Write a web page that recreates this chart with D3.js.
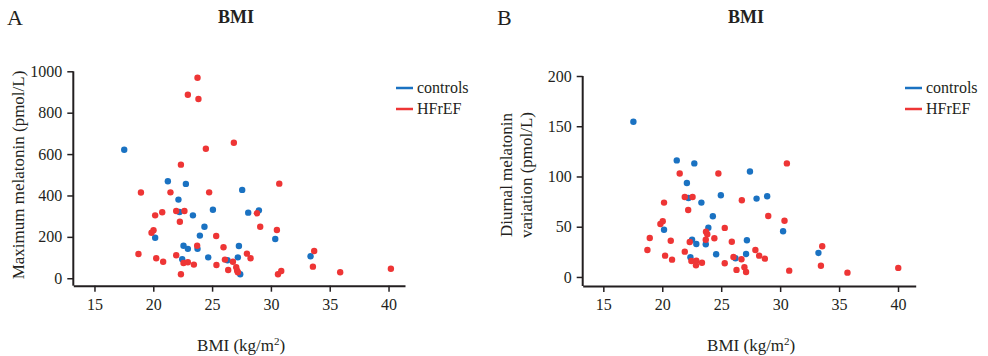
<!DOCTYPE html>
<html>
<head>
<meta charset="utf-8">
<script src="https://cdn.jsdelivr.net/npm/d3@7"></script>
<style>
  body { margin: 0; background: #fff; }
  text { font-family: "Liberation Serif", "Times New Roman", serif; fill: #231f20; }
</style>
</head>
<body>
<div id="chart"></div>
<script>
// panel A: BMI vs maximum melatonin (pmol/L)
const maxControls = [
  [17.53, 621], [21.24, 469], [22.77, 456], [27.56, 427], [22.14, 380], [22.23, 320],
  [25.07, 331], [28.07, 317], [28.98, 328], [23.37, 304], [24.35, 249], [20.16, 196],
  [23.96, 206], [22.57, 157], [22.94, 142], [23.76, 142], [27.28, 156], [24.67, 101],
  [27.19, 101], [22.46, 92], [26.31, 87], [27.39, 19], [30.37, 190], [33.37, 106]
];
const maxHFrEF = [
  [23.76, 969], [22.94, 887], [23.84, 866], [24.47, 626], [26.85, 655], [22.35, 549],
  [18.95, 414], [21.46, 415], [24.75, 415], [21.95, 325], [22.65, 325], [28.81, 314],
  [20.76, 319], [20.16, 304], [22.26, 273], [29.09, 249], [20.02, 232], [19.85, 220],
  [25.35, 204], [23.73, 157], [25.97, 150], [18.74, 117], [21.95, 111], [27.96, 119],
  [28.27, 97], [20.25, 97], [26.09, 90], [20.84, 80], [22.57, 74], [22.94, 77],
  [23.45, 66], [25.37, 64], [26.77, 80], [27.05, 53], [26.37, 40], [27.13, 37],
  [27.19, 29], [22.35, 19], [30.71, 457], [30.51, 233], [33.68, 132], [33.57, 56],
  [35.89, 29], [40.2, 46], [30.88, 35], [30.6, 19]
];

// panel B: BMI vs diurnal melatonin variation (pmol/L)
const varControls = [
  [17.55, 154.5], [21.23, 116], [22.72, 113], [27.44, 105], [22.09, 93.5], [22.22, 78.6],
  [24.97, 81.3], [23.32, 74], [24.29, 60.4], [20.15, 47], [23.91, 49], [22.53, 37],
  [22.89, 32.8], [23.69, 32.5], [27.18, 36.5], [22.39, 19.6], [24.57, 22.6], [26.21, 18.6],
  [27.11, 22.9], [28.0, 78], [28.9, 80.3], [30.25, 45.5], [33.25, 23.9]
];
const varHFrEF = [
  [21.48, 103], [24.76, 103], [21.91, 79.6], [22.57, 79.6], [26.75, 76.3], [20.15, 74],
  [22.2, 66.7], [19.84, 52.7], [20.04, 55.4], [23.71, 45], [23.82, 42.5], [25.3, 48.8],
  [24.42, 38.5], [23.69, 37], [22.33, 34.8], [25.9, 35], [18.94, 38.8], [20.72, 36],
  [18.74, 26.9], [20.24, 21.2], [20.83, 17.2], [21.91, 25.2], [22.47, 15.9], [22.89, 16.2],
  [22.86, 11.6], [23.37, 14.2], [25.3, 13.6], [26.04, 19.9], [26.72, 17.6], [26.3, 7],
  [26.97, 9.6], [27.11, 5], [28.99, 60.7], [30.37, 56], [27.9, 26.9], [28.22, 21.2],
  [28.7, 18.2], [33.57, 30.5], [33.46, 11.2], [30.77, 6.3], [35.71, 4.3], [40.02, 9],
  [30.57, 113]
];

const xTicks = [15, 20, 25, 30, 35, 40];
const yTicksA = [0, 200, 400, 600, 800, 1000];
const yTicksB = [0, 50, 100, 150, 200];
const seriesNames = ["controls", "HFrEF"];
const colors = { controls: "#1a72c2", HFrEF: "#ee3535" };
const serif = '"Liberation Serif", "Times New Roman", serif';

const svg = d3.select("#chart").append("svg")
  .attr("width", 988)
  .attr("height", 356);

function panel(opts) {
  const x = d3.scaleLinear().domain(opts.xDomain).range(opts.xRange);
  const y = d3.scaleLinear().domain(opts.yDomain).range(opts.yRange);
  const g = svg.append("g");

  // x axis
  const xa = g.append("g")
    .attr("transform", `translate(0,${opts.yRange[0]})`)
    .call(d3.axisBottom(x).tickValues(xTicks).tickFormat(d3.format("d"))
      .tickSizeOuter(0).tickSizeInner(6).tickPadding(7));
  // y axis
  const ya = g.append("g")
    .attr("transform", `translate(${opts.xRange[0]},0)`)
    .call(d3.axisLeft(y).tickValues(opts.yTicks).tickFormat(d3.format("d"))
      .tickSizeOuter(0).tickSizeInner(6).tickPadding(5));

  [xa, ya].forEach(a => {
    a.attr("font-family", serif).attr("font-size", 16);
    a.select(".domain").attr("stroke", "#231f20").attr("stroke-width", 2);
    a.selectAll(".tick line").attr("stroke", "#231f20").attr("stroke-width", 1.5);
    a.selectAll(".tick text").attr("fill", "#231f20");
  });
  // y domain line drawn from top tick down to x axis
  ya.select(".domain").attr("d", `M0,${y(opts.yTicks[opts.yTicks.length - 1])}V${opts.yRange[0]}`);

  // points
  const sets = [["controls", opts.controls], ["HFrEF", opts.hfref]];
  sets.forEach(([name, data]) => {
    g.append("g").selectAll("circle")
      .data(data)
      .enter()
      .append("circle")
      .attr("cx", d => x(d[0]))
      .attr("cy", d => y(d[1]))
      .attr("r", 3.2)
      .attr("fill", colors[name]);
  });

  // panel letter and title
  g.append("text").attr("x", opts.letterX).attr("y", 25)
    .style("font-size", "22px").text(opts.letter);
  g.append("text").attr("x", opts.titleX).attr("y", 23)
    .attr("text-anchor", "middle")
    .style("font-size", "18px").style("font-weight", "bold").text("BMI");

  // axis labels
  g.append("text")
    .attr("x", (opts.xRange[0] + opts.xRange[1]) / 2 + 2)
    .attr("y", 351)
    .attr("text-anchor", "middle")
    .style("font-size", "17px")
    .html('BMI (kg/m<tspan dy="-6" style="font-size:11px">2</tspan><tspan dy="6">)</tspan>');

  const yl = g.append("text")
    .attr("transform", `translate(${opts.yLabelX},175) rotate(-90)`)
    .attr("text-anchor", "middle")
    .style("font-size", "17px");
  opts.yLabel.forEach((line, i) => {
    yl.append("tspan").attr("x", 0).attr("dy", i === 0 ? 0 : 20).text(line);
  });

  // legend
  const lg = g.append("g").attr("transform", `translate(${opts.legendX},88)`);
  seriesNames.forEach((name, i) => {
    lg.append("line")
      .attr("x1", 0).attr("x2", 17)
      .attr("y1", i * 21).attr("y2", i * 21)
      .attr("stroke", colors[name]).attr("stroke-width", 2.5);
    lg.append("text")
      .attr("x", 21).attr("y", i * 21 + 5)
      .style("font-size", "16px")
      .text(name);
  });
}

panel({
  xDomain: [13.2, 41.4], xRange: [73.3, 405],
  yDomain: [-36, 1000], yRange: [285.7, 71.3],
  yTicks: yTicksA,
  controls: maxControls, hfref: maxHFrEF,
  letter: "A", letterX: 7, titleX: 236,
  yLabel: ["Maximum melatonin (pmol/L)"], yLabelX: 24,
  legendX: 396
});

panel({
  xDomain: [13.25, 41.5], xRange: [582.7, 915.7],
  yDomain: [-9, 200], yRange: [286, 76],
  yTicks: yTicksB,
  controls: varControls, hfref: varHFrEF,
  letter: "B", letterX: 497, titleX: 746,
  yLabel: ["Diurnal melatonin", "variation (pmol/L)"], yLabelX: 512,
  legendX: 905
});
</script>
</body>
</html>
